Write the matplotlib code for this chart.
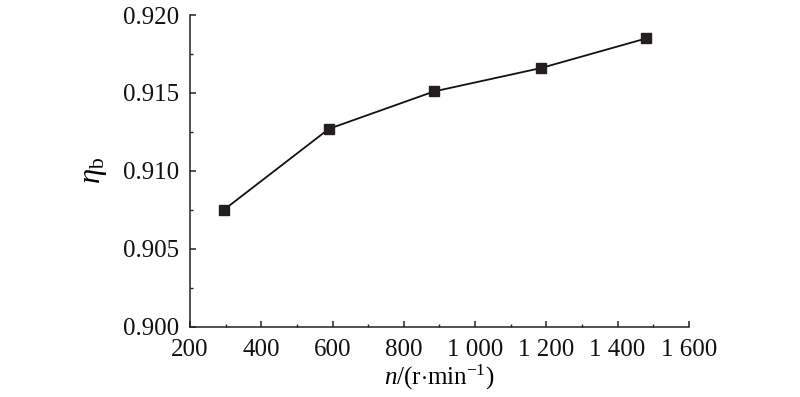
import matplotlib
matplotlib.use('Agg')
import matplotlib.pyplot as plt
from matplotlib.ticker import MultipleLocator, FuncFormatter

# 数据：转速与效率
speed = [295, 590, 885, 1185, 1480]
eta_b = [0.9075, 0.9127, 0.9151, 0.9166, 0.9185]

plt.rcParams['font.family'] = ['Liberation Serif', 'DejaVu Serif']
plt.rcParams['mathtext.fontset'] = 'custom'
plt.rcParams['mathtext.rm'] = 'Liberation Serif'
plt.rcParams['mathtext.it'] = 'Liberation Serif:italic'


def fmt_thousands(v, pos):
    # 千位用空格分隔
    return '{:,.0f}'.format(v).replace(',', ' ')


fig = plt.figure(figsize=(8, 3.97), dpi=100)
ax = fig.add_axes([0.2375, 0.177, 0.6235, 0.785])

ax.plot(speed, eta_b, color='#111111', lw=1.3, marker='s', ms=7.5,
        markerfacecolor='#231f20', markeredgecolor='#231f20')

ax.set_xlim(200, 1600)
ax.set_ylim(0.900, 0.920)
ax.xaxis.set_major_locator(MultipleLocator(200))
ax.xaxis.set_minor_locator(MultipleLocator(100))
ax.yaxis.set_major_locator(MultipleLocator(0.005))
ax.yaxis.set_minor_locator(MultipleLocator(0.0025))
ax.xaxis.set_major_formatter(FuncFormatter(fmt_thousands))
ax.yaxis.set_major_formatter(FuncFormatter(lambda v, p: '{:.3f}'.format(v)))

ax.spines['top'].set_visible(False)
ax.spines['right'].set_visible(False)
for s in ['left', 'bottom']:
    ax.spines[s].set_linewidth(1.1)
    ax.spines[s].set_color('#222222')

ax.tick_params(which='major', direction='in', length=4, width=1.1, labelsize=18,
               colors='#222222', labelcolor='#111111')
ax.tick_params(which='minor', direction='in', length=2.5, width=1.0, colors='#222222')
ax.tick_params(axis='y', pad=8)
ax.tick_params(axis='x', pad=9)

ax.set_xlabel(r'$n$/(r$\cdot$min$^{-1}$)', fontsize=18, labelpad=1)
ax.set_ylabel(r'$\eta_{\mathrm{b}}$', fontsize=22, labelpad=10)

plt.savefig('out.png', dpi=100)
